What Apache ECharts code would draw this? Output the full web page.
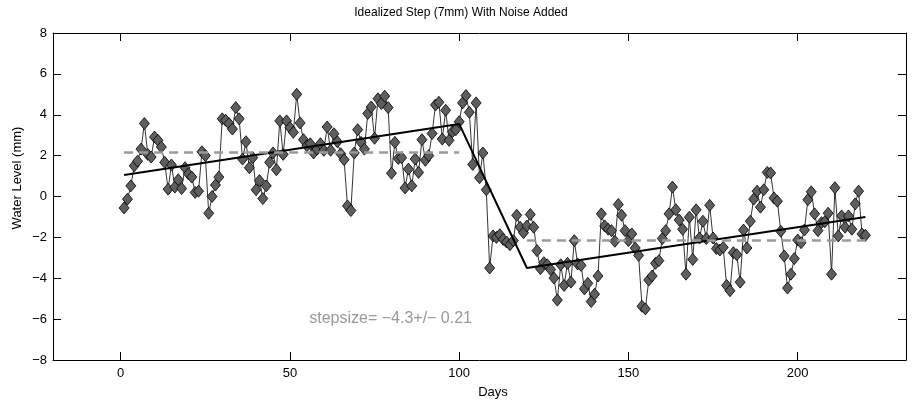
<!DOCTYPE html>
<html>
<head>
<meta charset="UTF-8">
<title>Idealized Step</title>
<script src="https://cdn.jsdelivr.net/npm/echarts@6/dist/echarts.min.js"></script>
<style>html,body{margin:0;padding:0;background:#fff;} #chart{width:922px;height:402px;}</style>
</head>
<body>
<div id="chart"></div>
<script>
// water level readings (mm), one per day starting at day 1
var levels = [
  -0.56, -0.13, 0.52, 1.50, 1.73, 2.32, 3.57, 2.06, 1.93, 2.91,
  2.75, 2.42, 1.67, 0.36, 1.54, 0.46, 0.82, 0.39, 1.41, 1.11,
  0.95, 0.20, 0.26, 2.19, 2.00, -0.82, 0.00, 0.56, 0.95, 3.80,
  3.73, 3.57, 3.30, 4.35, 3.80, 1.83, 2.68, 1.41, 1.90, 0.33,
  0.78, -0.10, 0.52, 1.67, 2.13, 1.31, 3.70, 2.06, 3.70, 3.37,
  3.14, 5.00, 3.60, 2.78, 2.48, 2.58, 2.13, 2.32, 2.58, 2.26,
  3.40, 2.26, 3.07, 2.68, 2.09, 1.80, -0.46, -0.69, 2.13, 3.27,
  2.65, 2.32, 4.06, 4.38, 2.85, 4.78, 4.55, 4.91, 4.35, 1.14,
  2.65, 1.86, 1.90, 0.42, 1.34, 0.52, 1.83, 1.18, 2.78, 1.77,
  2.00, 3.08, 4.48, 4.61, 2.81, 4.22, 2.75, 3.17, 3.27, 3.66,
  4.58, 4.94, 4.12, 1.57, 4.58, 0.92, 2.13, 0.33, -3.50, -1.93,
  -2.00, -1.87, -2.10, -2.23, -2.36, -2.16, -0.92, -1.50, -1.77, -1.44,
  -0.88, -1.50, -2.65, -3.53, -3.24, -3.34, -3.57, -3.99, -5.07, -3.34,
  -4.35, -3.27, -4.19, -2.16, -3.30, -3.37, -4.52, -4.25, -5.14, -4.78,
  -3.89, -0.85, -1.44, -1.60, -1.67, -2.19, -0.39, -0.92, -1.67, -2.16,
  -1.83, -2.52, -2.88, -5.37, -5.50, -4.09, -3.89, -3.27, -3.14, -2.06,
  -1.67, -0.85, 0.46, -0.65, -1.15, -1.60, -3.80, -1.01, -3.08, -0.65,
  -2.03, -1.21, -2.06, -0.43, -2.03, -2.55, -2.62, -2.49, -4.35, -4.61,
  -2.75, -2.85, -4.19, -1.64, -2.52, -1.21, -0.13, 0.26, -0.52, 0.33,
  1.18, 1.15, -0.07, -0.23, -1.70, -2.91, -4.48, -3.80, -3.04, -2.13,
  -2.26, -1.64, -0.16, 0.23, -0.85, -1.67, -1.28, -1.24, -0.82, -3.80,
  0.43, -1.93, -0.95, -1.50, -0.95, -1.60, -0.36, 0.26, -1.83, -1.90
];
var firstDay = 1;

// piecewise linear fit
var fitDays = [1, 100, 120, 220];
var fitLevels = [1.05, 3.55, -3.5, -1.0];

// idealized step (two flat levels)
var stepBeforeDays = [1, 100];
var stepBefore = [2.15, 2.15];
var stepAfterDays = [120, 220];
var stepAfter = [-2.15, -2.15];

var xTicks = [0, 50, 100, 150, 200];
var stepText = 'stepsize= \u22124.3+/\u2212 0.21';

function pairs(xs, ys) {
    return xs.map(function (x, i) { return [x, ys[i]]; });
}
var obs = levels.map(function (v, i) { return [firstDay + i, v]; });

var font = 'Liberation Sans, Arial, Helvetica, sans-serif';
var minus = function (v) { return String(v).replace('-', '\u2212'); };

var chart = echarts.init(document.getElementById('chart'), null, {renderer: 'canvas'});

var tickStyle = {show: true, inside: true, length: 8, lineStyle: {color: '#000', width: 1}};
var lineStyle = {show: true, onZero: false, lineStyle: {color: '#000', width: 1}};

var option = {
    backgroundColor: '#fff',
    animation: false,
    grid: {left: 53, right: 16, top: 33, bottom: 42, containLabel: false},
    xAxis: [{
        type: 'value', min: -20, max: 232,
        axisLine: lineStyle,
        axisTick: {show: true, inside: true, length: 8, lineStyle: {color: '#000'}, customValues: xTicks},
        axisLabel: {customValues: xTicks, color: '#000', fontFamily: font, fontSize: 13, margin: 7, formatter: minus},
        splitLine: {show: false}
    }, {
        type: 'value', min: -20, max: 232, position: 'top',
        axisLine: lineStyle,
        axisTick: {show: true, inside: true, length: 8, lineStyle: {color: '#000'}, customValues: xTicks},
        axisLabel: {show: false},
        splitLine: {show: false}
    }],
    yAxis: [{
        type: 'value', min: -8, max: 8, interval: 2,
        axisLine: lineStyle,
        axisTick: tickStyle,
        axisLabel: {color: '#000', fontFamily: font, fontSize: 13, margin: 6, formatter: minus},
        splitLine: {show: false}
    }, {
        type: 'value', min: -8, max: 8, interval: 2, position: 'right',
        axisLine: lineStyle,
        axisTick: tickStyle,
        axisLabel: {show: false},
        splitLine: {show: false}
    }],
    series: [{
        name: 'observed',
        type: 'line',
        data: obs,
        symbol: 'diamond',
        symbolSize: [10, 12],
        showAllSymbol: true,
        lineStyle: {color: '#000', width: 0.8},
        itemStyle: {color: '#5e5e5e', borderColor: '#000', borderWidth: 0.8},
        z: 2
    }, {
        name: 'fit',
        type: 'line',
        data: pairs(fitDays, fitLevels),
        showSymbol: false,
        lineStyle: {color: '#000', width: 2},
        z: 3
    }, {
        name: 'step before',
        type: 'line',
        data: pairs(stepBeforeDays, stepBefore),
        showSymbol: false,
        lineStyle: {color: '#9a9a9a', width: 2.5, type: [9, 6]},
        z: 4
    }, {
        name: 'step after',
        type: 'line',
        data: pairs(stepAfterDays, stepAfter),
        showSymbol: false,
        lineStyle: {color: '#9a9a9a', width: 2.5, type: [9, 6]},
        z: 4
    }],
    graphic: [{
        type: 'text', left: 'center', top: 7,
        style: {text: 'Idealized Step (7mm) With Noise Added', font: '12px ' + font, fill: '#000'}
    }, {
        type: 'text', x: 493, y: 392,
        style: {text: 'Days', font: '13px ' + font, fill: '#000', textAlign: 'center', textVerticalAlign: 'middle'}
    }, {
        type: 'text', x: 17, y: 178, rotation: Math.PI / 2,
        style: {text: 'Water Level (mm)', font: '13px ' + font, fill: '#000', textAlign: 'center', textVerticalAlign: 'middle'}
    }, {
        type: 'text', x: 472, y: 319,
        style: {text: stepText, font: '16px ' + font, fill: '#999', textAlign: 'right', textVerticalAlign: 'middle'}
    }]
};
chart.setOption(option);
</script>
</body>
</html>
